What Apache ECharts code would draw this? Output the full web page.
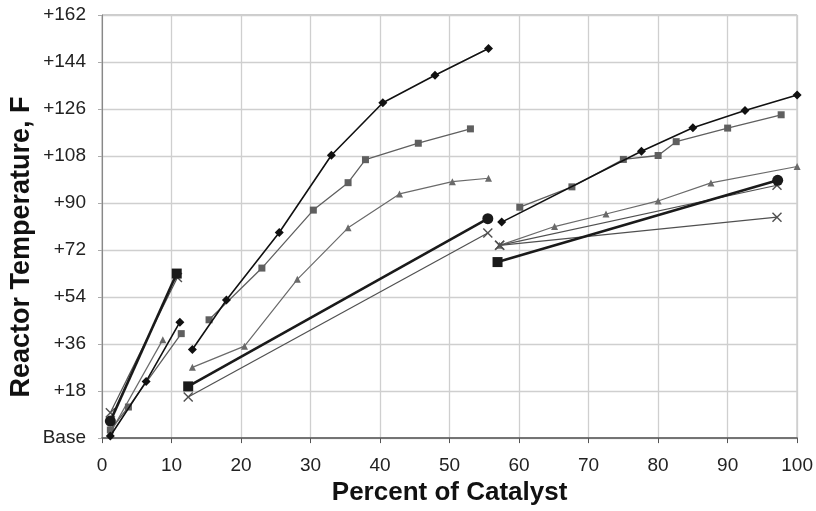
<!DOCTYPE html>
<html>
<head>
<meta charset="utf-8">
<script src="https://cdn.jsdelivr.net/npm/echarts@6/dist/echarts.min.js"></script>
<style>
  html, body { margin: 0; padding: 0; background: #fff; }
  #chart { width: 816px; height: 511px; }
</style>
</head>
<body>
<div id="chart"></div>
<script>
// readings: [percent of catalyst, temperature above base]
var diamondA = [[1.2, 0.8], [6.35, 21.7], [11.2, 44.4]];
var diamondB = [[13.0, 33.9], [17.9, 52.9], [25.5, 78.7], [33.0, 108.3], [40.4, 128.4], [47.9, 138.9], [55.6, 149.2]];
var diamondC = [[57.5, 82.7], [77.6, 109.8], [85.0, 118.8], [92.5, 125.4], [100, 131.4]];

var squareA = [[1.2, 3.1], [3.8, 11.9], [11.4, 40.0]];
var squareB = [[15.4, 45.3], [23.0, 65.1], [30.4, 87.3], [35.4, 97.8], [37.9, 106.6], [45.5, 112.9], [53.0, 118.4]];
var squareC = [[60.1, 88.4], [67.6, 96.2], [75.0, 106.7], [80.0, 108.2], [82.6, 113.5], [90.0, 118.7], [97.7, 123.8]];

var triangleA = [[1.2, 2.0], [8.75, 37.7]];
var triangleB = [[13.0, 27.1], [20.5, 35.2], [28.1, 60.8], [35.4, 80.5], [42.8, 93.5], [50.4, 98.2], [55.6, 99.5]];
var triangleC = [[57.2, 73.8], [65.1, 81.0], [72.5, 85.8], [80.0, 90.8], [87.6, 97.7], [100, 104.0]];

var heavyA = [[1.2, 6.5], [10.75, 63.0]];
var heavyB = [[12.4, 19.8], [55.5, 84.0]];
var heavyC = [[56.9, 67.4], [97.2, 98.7]];

var crossA = [[1.2, 9.7], [10.85, 61.5]];
var crossB = [[12.4, 15.7], [55.5, 78.5]];
var crossC1 = [[57.2, 73.8], [97.1, 96.8]];
var crossC2 = [[57.2, 73.8], [97.1, 84.6]];

var xTicks = [0, 10, 20, 30, 40, 50, 60, 70, 80, 90, 100];
var yTicks = [0, 18, 36, 54, 72, 90, 108, 126, 144, 162];

var crossPath = 'path://M0,1 L1,0 L5,4 L9,0 L10,1 L6,5 L10,9 L9,10 L5,6 L1,10 L0,9 L4,5 Z';

function line(data, symbol, size, color, width, z) {
  return {
    type: 'line',
    data: data,
    symbol: symbol,
    symbolSize: size,
    showAllSymbol: true,
    z: z || 2,
    lineStyle: { color: color, width: width },
    itemStyle: { color: color },
    emphasis: { disabled: true },
    animation: false
  };
}

// heavy black line: first/last markers differ (circle / square)
function heavy(data, firstSym, lastSym) {
  var pts = data.map(function (p, i) {
    var s = i === 0 ? firstSym : lastSym;
    return { value: p, symbol: s, symbolSize: s === 'circle' ? 11 : 10 };
  });
  return line(pts, 'rect', 10, '#1a1a1a', 2.6, 4);
}

var series = [
  line(squareA, 'rect', 7, '#5f5f5f', 1.3),
  line(squareB, 'rect', 7, '#5f5f5f', 1.3),
  line(squareC, 'rect', 7, '#5f5f5f', 1.3),
  line(triangleA, 'triangle', 7, '#6a6a6a', 1.2),
  line(triangleB, 'triangle', 7, '#6a6a6a', 1.2),
  line(triangleC, 'triangle', 7, '#6a6a6a', 1.2),
  line(crossA, crossPath, 10, '#505050', 1.2),
  line(crossB, crossPath, 10, '#505050', 1.2),
  line(crossC1, crossPath, 10, '#505050', 1.2),
  line(crossC2, crossPath, 10, '#505050', 1.2),
  heavy(heavyA, 'circle', 'rect'),
  heavy(heavyB, 'rect', 'circle'),
  heavy(heavyC, 'rect', 'circle'),
  line(diamondA, 'diamond', 9, '#111', 1.6, 3),
  line(diamondB, 'diamond', 9, '#111', 1.6, 3),
  line(diamondC, 'diamond', 9, '#111', 1.6, 3)
];

var myChart = echarts.init(document.getElementById('chart'));
myChart.setOption({
  backgroundColor: '#fff',
  animation: false,
  textStyle: { fontFamily: 'Liberation Sans, Arial, sans-serif' },
  grid: {
    left: 102, right: 18, top: 15, bottom: 63,
    show: true, borderColor: '#9a9a9a', borderWidth: 1
  },
  graphic: [{
    type: 'text',
    x: 22, y: 247,
    rotation: Math.PI / 2,
    style: {
      text: 'Reactor Temperature, F',
      font: 'bold 27px "Liberation Sans", Arial, sans-serif',
      fill: '#111',
      align: 'center',
      verticalAlign: 'middle'
    }
  }],
  xAxis: {
    type: 'value',
    min: xTicks[0], max: xTicks[xTicks.length - 1], interval: 10,
    name: 'Percent of Catalyst',
    nameLocation: 'middle',
    nameGap: 41,
    nameTextStyle: { fontSize: 26, fontWeight: 'bold', color: '#111' },
    axisLine: { lineStyle: { color: '#555', width: 1.5 } },
    axisTick: { show: true, inside: false, length: 5, lineStyle: { color: '#555' } },
    axisLabel: { fontSize: 19, color: '#222', margin: 18 },
    splitLine: { show: true, lineStyle: { color: '#cfcfcf', width: 1.3 } }
  },
  yAxis: {
    type: 'value',
    min: yTicks[0], max: yTicks[yTicks.length - 1], interval: 18,
    axisLine: { show: true, lineStyle: { color: '#888', width: 1 } },
    axisTick: { show: true, inside: false, length: 4, lineStyle: { color: '#aaa' } },
    axisLabel: {
      fontSize: 19, color: '#222', margin: 16,
      padding: [8, 0, 0, 0],
      formatter: function (v) { return v === 0 ? 'Base' : '+' + v; }
    },
    splitLine: { show: true, lineStyle: { color: '#cfcfcf', width: 1.3 } }
  },
  series: series
});
</script>
</body>
</html>
